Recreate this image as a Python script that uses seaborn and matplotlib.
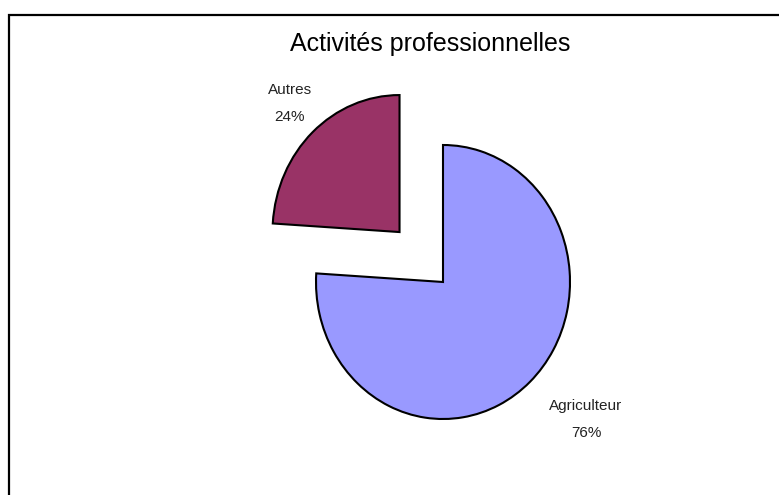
import matplotlib
matplotlib.use("Agg")
import matplotlib.pyplot as plt
import matplotlib.patches as mpatches
from matplotlib.transforms import ScaledTranslation
import seaborn as sns

# data
categories = ["Agriculteur", "Autres"]
values = [76, 24]
colors = ["#9999FF", "#993366"]
explode = [0, 0.5]
title = "Activités professionnelles"

sns.set_theme(style="white")
plt.rcParams["font.family"] = ["Liberation Sans", "DejaVu Sans"]

W, H = 779, 495
fig = plt.figure(figsize=(W / 100, H / 100), dpi=100)
fig.patch.set_facecolor("white")

# pie center in pixels and radii (slightly elliptical, like the original)
cx, cy = 443, 282
rx, ry = 127, 137
ax = fig.add_axes([0, 0, 1, 1])
ax.axis("off")

labels = [f"{c}\n\n{v}%" for c, v in zip(categories, values)]
wedges, texts = ax.pie(
    values,
    labels=labels,
    colors=colors,
    explode=explode,
    startangle=90,
    counterclock=False,
    labeldistance=1.38,
    wedgeprops=dict(edgecolor="black", linewidth=1.5),
    textprops=dict(fontsize=11, color="#222222", ha="center", va="center",
                   linespacing=0.95),
    frame=False,
)
ax.set_xlim(-cx / rx, (W - cx) / rx)
ax.set_ylim(-(H - cy) / ry, cy / ry)
ax.set_aspect("auto")

# small nudges (pixels) so labels sit where the original puts them
nudges = [(23, 0), (10, 9)]
for t, (dx, dy) in zip(texts, nudges):
    t.set_transform(t.get_transform()
                    + ScaledTranslation(dx / 100, -dy / 100, fig.dpi_scale_trans))

fig.text(430 / W, 1 - 44 / H, title, ha="center", va="center",
         fontsize=18, color="black")

# chart area border (clipped at right and bottom)
border = mpatches.Rectangle((9 / W, -0.05), 1.0, 1.05 - 15 / H,
                            transform=fig.transFigure, fill=False,
                            edgecolor="black", linewidth=1.6)
fig.patches.append(border)

fig.savefig("out.png", dpi=100)
